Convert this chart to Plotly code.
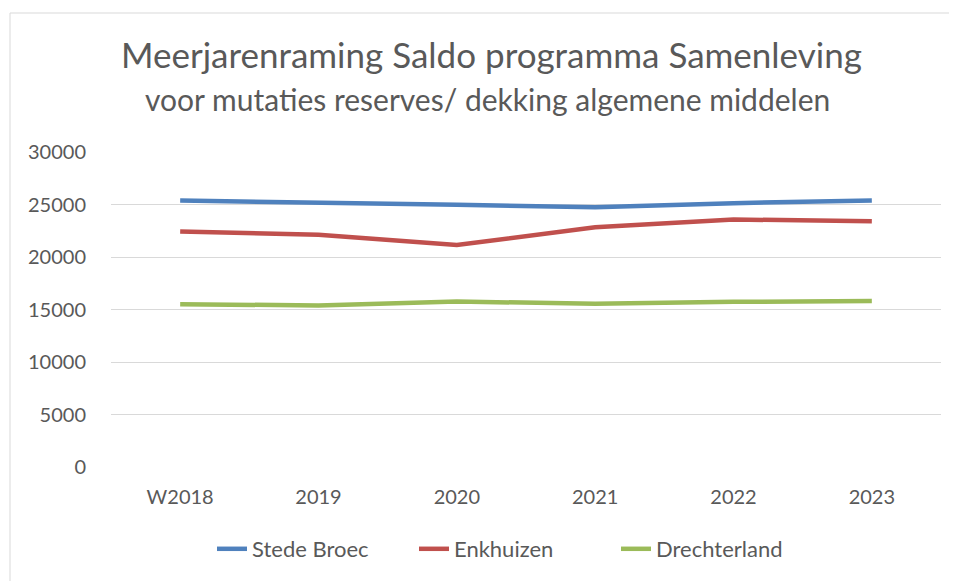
import plotly.graph_objects as go

categories = ["W2018", "2019", "2020", "2021", "2022", "2023"]
stede_broec = [25380, 25220, 24970, 24750, 25130, 25380]
enkhuizen = [22420, 22130, 21150, 22830, 23570, 23410]
drechterland = [15510, 15380, 15760, 15540, 15730, 15800]
y_ticks = [0, 5000, 10000, 15000, 20000, 25000, 30000]

series = [
    ("Stede Broec", stede_broec, "#4F81BD"),
    ("Enkhuizen", enkhuizen, "#C0504D"),
    ("Drechterland", drechterland, "#9BBB59"),
]

FONT = "Lato"
TXT = "#595959"
OFF = 8                      # page body margin in the browser
L, T, H, W = 111 - OFF, 152 - OFF, 315, 830   # plot area in figure px
FW, FH = 957, 581


def py(pix):
    return (T + H - (pix - OFF)) / H


def px(pix):
    return (pix - OFF - L) / W


fig = go.Figure()
for name, vals, col in series:
    fig.add_trace(go.Scatter(
        x=categories, y=vals, name=name, mode="lines",
        line=dict(color=col, width=4.5),
    ))

fig.update_layout(
    width=FW, height=FH,
    margin=dict(l=L, r=FW - L - W, t=T, b=FH - T - H, autoexpand=False),
    paper_bgcolor="white", plot_bgcolor="white",
    font=dict(family=FONT, color=TXT, size=20),
    showlegend=True,
    legend=dict(orientation="h", x=px(515), xanchor="center", y=py(549), yanchor="middle",
                font=dict(size=22, color=TXT), entrywidth=157, entrywidthmode="pixels",
                tracegroupgap=0),
    xaxis=dict(type="category", showgrid=False, zeroline=False, showline=False,
               ticks="", tickfont=dict(size=20, color=TXT), ticklabelstandoff=16,
               range=[-0.5, 5.5], automargin=False),
    yaxis=dict(range=[0, 30000], tickvals=y_ticks, ticktext=[str(v) for v in y_ticks],
               showgrid=True, gridcolor="#d9d9d9", gridwidth=1,
               zeroline=False, showline=False, ticks="",
               tickfont=dict(size=20, color=TXT), ticklabelstandoff=24, automargin=False),
    annotations=[
        dict(text="Meerjarenraming Saldo programma Samenleving", x=px(491), y=py(54),
             xref="paper", yref="paper", showarrow=False,
             font=dict(size=35, color=TXT, family=FONT), xanchor="center", yanchor="middle"),
        dict(text="voor mutaties reserves/ dekking algemene middelen", x=px(487.5), y=py(99),
             xref="paper", yref="paper", showarrow=False,
             font=dict(size=30, color=TXT, family=FONT), xanchor="center", yanchor="middle"),
    ],
    shapes=[dict(type="rect", xref="paper", yref="paper",
                 x0=px(10), x1=px(1030), y0=py(640), y1=py(13),
                 line=dict(color="#d9d9d9", width=1), layer="below")],
)

fig.write_html("out.html")
